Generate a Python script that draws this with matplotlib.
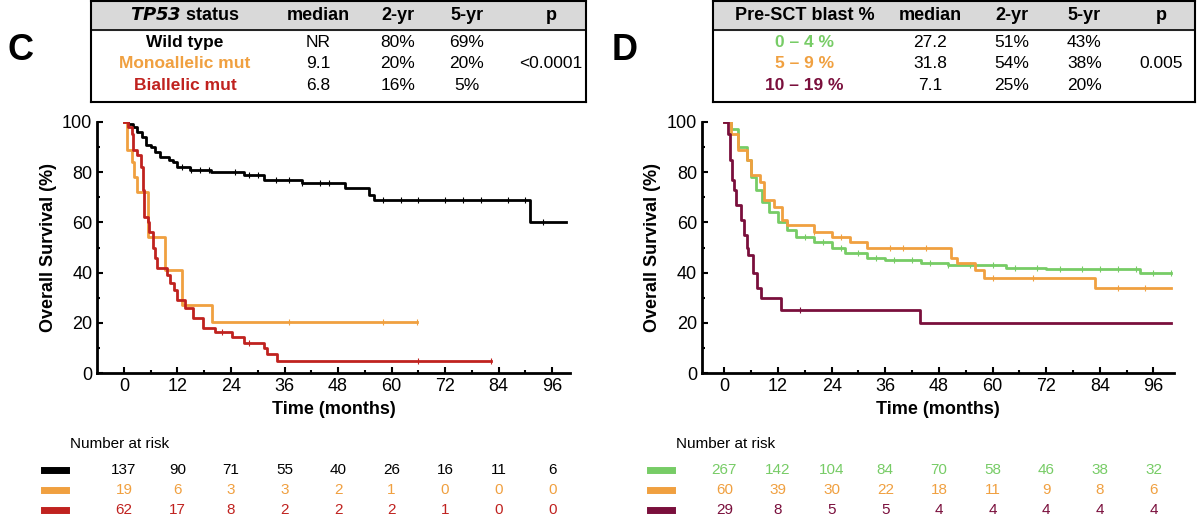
import numpy as np
import matplotlib
matplotlib.use('Agg')
import matplotlib.pyplot as plt

plt.rcParams['font.family'] = ['Liberation Sans', 'DejaVu Sans']

BLACK = '#000000'
ORANGE = '#f0a040'
RED = '#c0221f'
GREEN = '#77cc66'
ORANGE_D = '#f0a040'
MAROON = '#7a0f3c'

# Panel C curves (time in months, survival %)
wt_t = [0, 1, 2, 3, 4, 5, 6, 7, 8, 10, 11, 12, 14.8, 19.5, 27, 31.5, 40, 49.5, 55, 56, 91, 99]
wt_s = [100, 99, 98, 96, 94, 91, 90, 88, 86, 85, 84, 82, 81, 80, 79, 77, 75.5, 73.5, 71, 69, 60, 60]
wt_c = [13, 15, 17, 19, 25, 28, 30, 34, 37, 40, 44, 46, 58, 62, 66, 72, 76, 80, 86, 90, 94]
mono_t = [0, 0.6, 1.7, 2.3, 3, 5.5, 9.2, 13, 19.7, 65.7]
mono_s = [100, 89, 84, 78, 72, 54, 41, 27, 20.5, 20.5]
mono_c = [37, 58, 65.7]
bi_t = [0, 1, 1.7, 2.1, 3, 3.9, 4.3, 4.6, 5.3, 5.7, 6.5, 7, 7.5, 9.6, 10.4, 11.2, 12, 13.6,
        15.4, 17.7, 20.3, 24.2, 27, 31.5, 32, 34.3, 82.3]
bi_s = [100, 98, 95, 89, 87, 82, 73, 62, 60, 56, 50, 46, 42, 39, 36, 33, 29, 26,
        22, 18, 16.5, 14.5, 12, 10, 7.5, 5, 5]
bi_c = [22, 28, 66, 82.3]

# Panel D curves
g_t = [0, 1.5, 3, 5, 6, 7, 8.5, 10, 12, 14, 16, 20, 24, 27, 32, 36, 44, 50, 63, 72, 93, 100]
g_s = [100, 97, 90, 85, 78, 73, 68, 64, 60, 57, 54, 52, 50, 48, 46, 45, 44, 43, 42, 41.5, 40, 40]
g_c = [18, 22, 26, 30, 34, 38, 42, 46, 50, 55, 60, 65, 70, 75, 80, 84, 88, 92, 96, 100]
o_t = [0, 1.5, 3, 5, 6, 8, 8.8, 11, 13, 14, 20, 24, 28, 32, 50.6, 52, 56, 58, 82, 83, 100]
o_s = [100, 95, 89, 85, 79, 76, 69, 66, 61, 59, 56, 54, 52, 50, 46, 44, 41, 38, 38, 34, 34]
o_c = [20, 26, 37, 40, 45, 60, 69, 88, 94]
m_t = [0, 0.8, 1.3, 1.6, 2.2, 2.6, 3.7, 4.3, 5, 5.4, 6.4, 7.3, 8.2, 12.75, 21.4, 43.7, 100]
m_s = [100, 95, 85, 77, 73, 67, 61, 55, 50, 47, 40, 34, 30, 25, 25, 20, 20]
m_c = [17]

risk_times = [0, 12, 24, 36, 48, 60, 72, 84, 96]
risk_c = [[137, 90, 71, 55, 40, 26, 16, 11, 6],
          [19, 6, 3, 3, 2, 1, 0, 0, 0],
          [62, 17, 8, 2, 2, 2, 1, 0, 0]]
risk_d = [[267, 142, 104, 84, 70, 58, 46, 38, 32],
          [60, 39, 30, 22, 18, 11, 9, 8, 6],
          [29, 8, 5, 5, 4, 4, 4, 4, 4]]

tab_c_head = ['status', 'median', '2-yr', '5-yr', 'p']
tab_c_rows = [['Wild type', 'NR', '80%', '69%', ''],
              ['Monoallelic mut', '9.1', '20%', '20%', '<0.0001'],
              ['Biallelic mut', '6.8', '16%', '5%', '']]
tab_d_head = ['Pre-SCT blast %', 'median', '2-yr', '5-yr', 'p']
tab_d_rows = [['0 – 4 %', '27.2', '51%', '43%', ''],
              ['5 – 9 %', '31.8', '54%', '38%', '0.005'],
              ['10 – 19 %', '7.1', '25%', '20%', '']]

fig = plt.figure(figsize=(12, 5.3), dpi=100)


def km(ax, t, s, cens, col):
    ax.step(t, s, where='post', color=col, lw=2)
    ax.plot(cens, [s[np.searchsorted(t, c, side='right') - 1] for c in cens],
            ls='none', marker='|', ms=4, mew=0.8, color=col)


def panel(rect, xlim, curves, letter, risk, colors, risk_x0, xs, tab_rect, head, rows):
    ax = fig.add_axes(rect)
    for t, s, c, col in curves:
        km(ax, t, s, c, col)
    ax.set_xlim(*xlim)
    ax.set_ylim(0, 100)
    ax.set_xticks(risk_times)
    ax.set_xticks(np.arange(6, 100, 12), minor=True)
    ax.set_yticks(range(0, 101, 20))
    ax.set_yticks(range(10, 100, 20), minor=True)
    for sp in ['top', 'right']:
        ax.spines[sp].set_visible(False)
    for sp in ['left', 'bottom']:
        ax.spines[sp].set_linewidth(2)
    ax.tick_params(which='both', direction='in', width=1.5)
    ax.tick_params(which='major', length=4, labelsize=13)
    ax.tick_params(which='minor', length=2.5)
    ax.set_xlabel('Time (months)', fontsize=13, fontweight='bold')
    ax.set_ylabel('Overall Survival (%)', fontsize=13, fontweight='bold')
    fig.text(risk_x0 + 0.012, 0.155, 'Number at risk', fontsize=11)
    # number at risk rows
    for i, (row, col) in enumerate(zip(risk, colors)):
        yf = 0.113 - i * 0.038
        fig.add_artist(plt.Line2D([risk_x0 - 0.009, risk_x0 + 0.009], [yf, yf], color=col, lw=5,
                                  transform=fig.transFigure))
        for tt, n in zip(risk_times, row):
            xf = fig.transFigure.inverted().transform(ax.transData.transform((tt, 0)))[0]
            fig.text(xf, yf, str(n), color=col, ha='center', va='center', fontsize=11)
    # table
    tx = fig.add_axes(tab_rect)
    tx.set_xlim(0, 1)
    tx.set_ylim(0, 4)
    tx.set_xticks([])
    tx.set_yticks([])
    for sp in tx.spines.values():
        sp.set_linewidth(1.5)
    tx.axhspan(2.85, 4, color='#d9d9d9')
    tx.axhline(2.85, color='k', lw=1.2)
    for j, h in enumerate(head):
        if letter == 'C' and j == 0:
            tx.text(xs[0], 3.42, r'$\mathbfit{TP53}$ status', ha='center', va='center',
                    fontsize=13, fontweight='bold')
        else:
            tx.text(xs[j], 3.42, h, ha='center', va='center', fontsize=13, fontweight='bold')
    for i, (r, rc) in enumerate(zip(rows, colors)):
        y = 2.35 - i * 0.85
        for j, v in enumerate(r):
            tx.text(xs[j], y, v, ha='center', va='center', fontsize=12.5,
                    color=rc if j == 0 else 'k', fontweight='bold' if j == 0 else 'normal')
    fig.text(rect[0] - 0.075, 0.905, letter, fontsize=26, fontweight='bold', va='center')
    return ax


panel([0.081, 0.296, 0.394, 0.474], (-6, 100),
      [(wt_t, wt_s, wt_c, BLACK), (mono_t, mono_s, mono_c, ORANGE), (bi_t, bi_s, bi_c, RED)],
      'C', risk_c, [BLACK, ORANGE, RED], 0.046,
      [0.19, 0.46, 0.62, 0.76, 0.93], [0.076, 0.808, 0.412, 0.19],
      tab_c_head, tab_c_rows)
panel([0.585, 0.296, 0.393, 0.474], (-5, 100.5),
      [(g_t, g_s, g_c, GREEN), (o_t, o_s, o_c, ORANGE_D), (m_t, m_s, m_c, MAROON)],
      'D', risk_d, [GREEN, ORANGE_D, MAROON], 0.551,
      [0.19, 0.45, 0.62, 0.77, 0.93], [0.594, 0.808, 0.402, 0.19],
      tab_d_head, tab_d_rows)

fig.savefig('out.png', dpi=100, facecolor='white')
